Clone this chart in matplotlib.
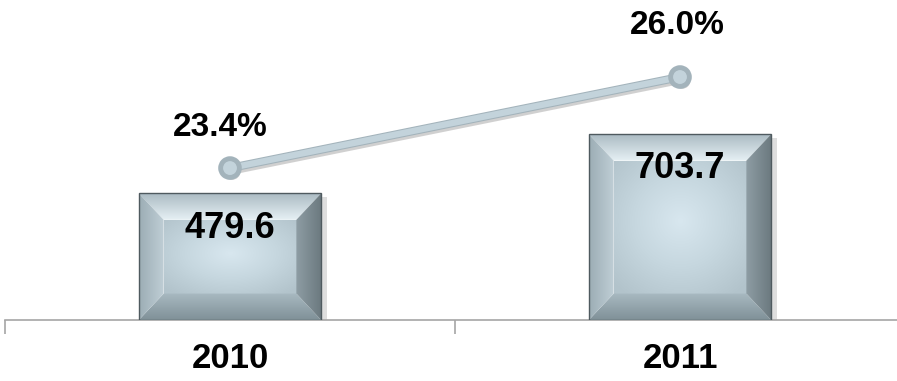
import numpy as np
import matplotlib.pyplot as plt
import matplotlib.patheffects as pe
from matplotlib.patches import Polygon
from matplotlib.colors import LinearSegmentedColormap

years = ['2010', '2011']
values = [479.6, 703.7]
margins = [23.4, 26.0]
value_labels = ['479.6', '703.7']
margin_labels = ['23.4%', '26.0%']

plt.rcParams['font.family'] = ['Liberation Sans', 'DejaVu Sans']

fig = plt.figure(figsize=(8.97, 3.81), dpi=100)
ax = fig.add_axes([5 / 897, 1 - 320 / 381, 900 / 897, 320 / 381])
ax2 = ax.twinx()

x = np.arange(len(years))
width = 0.405
ax.set_xlim(-0.5, 1.5)
ax.set_ylim(0, 1212)
ax2.set_ylim(19.06, 28.2)


def gradient_fill(ax, poly, c0, c1, direction, z):
    # paint a linear gradient clipped to a polygon
    xs, ys = poly[:, 0], poly[:, 1]
    cmap = LinearSegmentedColormap.from_list('g', [c0, c1])
    g = np.linspace(0, 1, 64)
    if direction == 'v':
        img = g[:, None] * np.ones((1, 4))
    else:
        img = np.ones((4, 1)) * g[None, :]
    im = ax.imshow(img, cmap=cmap, extent=[xs.min(), xs.max(), ys.min(), ys.max()],
                   origin='lower', aspect='auto', zorder=z, interpolation='bicubic')
    patch = Polygon(poly, closed=True, fc='none', ec='none')
    ax.add_patch(patch)
    im.set_clip_path(patch)


def face_fill(ax, x0, x1, y0, y1, z):
    # soft radial highlight on the front face
    gx = np.linspace(-1, 1, 80)
    gy = np.linspace(-1, 1, 80)
    X, Y = np.meshgrid(gx, gy)
    r = np.sqrt(X ** 2 + (Y - 0.1) ** 2)
    cmap = LinearSegmentedColormap.from_list('f', ['#d8e7ef', '#c6d7df', '#b2c3cb'])
    ax.imshow(np.clip(r / 1.4, 0, 1), cmap=cmap, vmin=0, vmax=1,
              extent=[x0, x1, y0, y1], origin='lower', aspect='auto',
              zorder=z, interpolation='bicubic')


bars = ax.bar(x, values, width, color='none', edgecolor='#4f5a5f', linewidth=1.0, zorder=5)
bx = 0.055   # bevel size in x data units
by = 100     # bevel size in y data units
for b in bars:
    x0, y0 = b.get_x(), b.get_y()
    x1, y1 = x0 + b.get_width(), y0 + b.get_height()
    ix0, ix1, iy0, iy1 = x0 + bx, x1 - bx, y0 + by, y1 - by
    # drop shadow
    ax.add_patch(Polygon([[x0 + 0.01, y0 - 8], [x1 + 0.012, y0 - 8], [x1 + 0.012, y1 - 15],
                          [x1, y1 - 15], [x1, y0], [x0 + 0.01, y0]],
                         fc='#c8c8c8', ec='none', alpha=0.6, zorder=2))
    face_fill(ax, ix0, ix1, iy0, iy1, 3)
    top = np.array([[x0, y1], [x1, y1], [ix1, iy1], [ix0, iy1]])
    bot = np.array([[x0, y0], [x1, y0], [ix1, iy0], [ix0, iy0]])
    left = np.array([[x0, y0], [x0, y1], [ix0, iy1], [ix0, iy0]])
    right = np.array([[x1, y0], [x1, y1], [ix1, iy1], [ix1, iy0]])
    gradient_fill(ax, top, '#e6f0f4', '#abbbc3', 'v', 3)
    gradient_fill(ax, bot, '#809198', '#a8b9c1', 'v', 3)
    gradient_fill(ax, left, '#9cadb5', '#bfced5', 'h', 3)
    gradient_fill(ax, right, '#8e9da4', '#6c7a80', 'h', 3)

for xi, v, lab in zip(x, values, value_labels):
    ax.annotate(lab, (xi, v), xytext=(0, -25), textcoords='offset points',
                ha='center', va='center', fontsize=26, fontweight='bold',
                color='black', zorder=8)

line, = ax2.plot(x, margins, color='#c3d3db', linewidth=4.5, marker='o',
                 markersize=11, markerfacecolor='#c3d3db', markeredgecolor='#a3b3bb',
                 markeredgewidth=1.0, solid_capstyle='round', zorder=6)
line.set_path_effects([pe.SimpleLineShadow(offset=(1.5, -2.5), shadow_color='#666666', alpha=0.3),
                       pe.Stroke(linewidth=6, foreground='#a3b3bb'), pe.Normal()])

margin_offsets = [(-7, 29), (-2, 37)]
for xi, m, lab, off in zip(x, margins, margin_labels, margin_offsets):
    ax2.annotate(lab, (xi, m), xytext=off, textcoords='offset points',
                 ha='center', va='center', fontsize=24, fontweight='bold', color='black')

ax2.set_zorder(ax.get_zorder() + 1)
ax2.patch.set_visible(False)

for a in (ax, ax2):
    for s in ('top', 'right', 'left'):
        a.spines[s].set_visible(False)
    a.set_yticks([])
ax2.spines['bottom'].set_visible(False)
ax.spines['bottom'].set_color('#a6a6a6')
ax.spines['bottom'].set_linewidth(1.2)

ax.set_xticks(x)
ax.set_xticklabels(years, fontsize=25, fontweight='bold')
ax.tick_params(axis='x', which='major', length=0, pad=16)
ax.set_xticks([-0.5, 0.5, 1.5], minor=True)
ax.tick_params(axis='x', which='minor', length=10, width=1.2, color='#a6a6a6', direction='out')

fig.savefig('out.png', dpi=100)
